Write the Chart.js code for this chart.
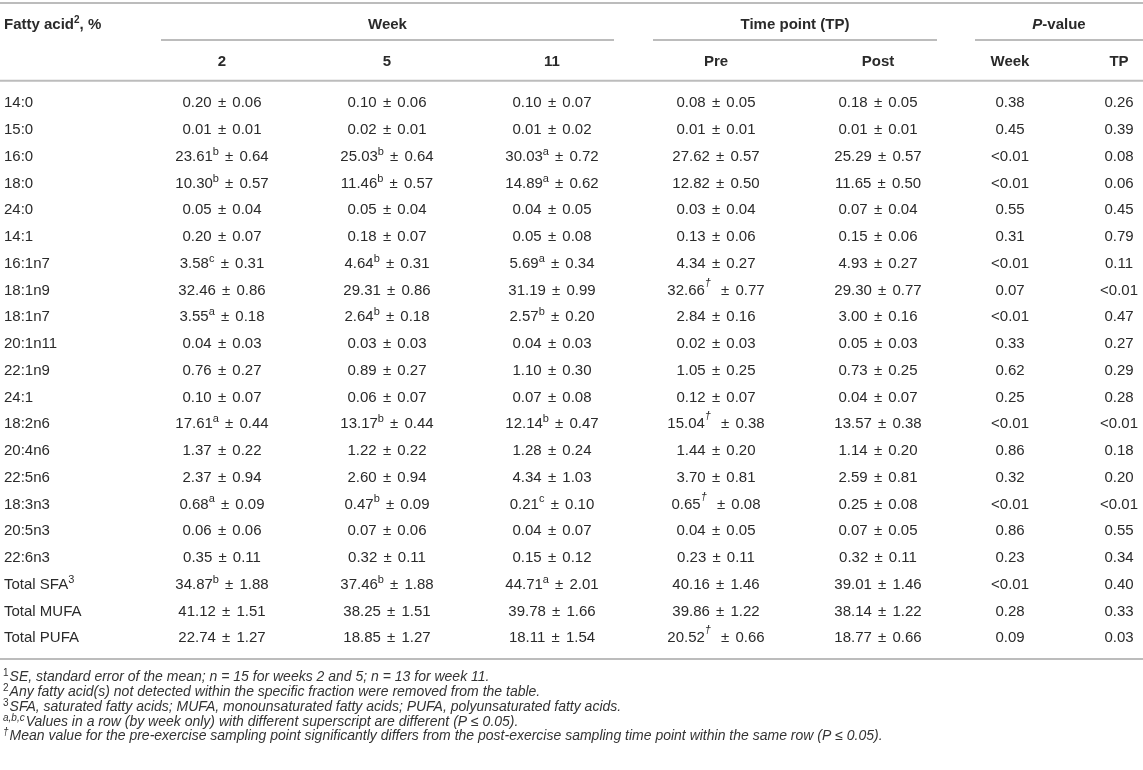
<!DOCTYPE html>
<html lang="en">
<head>
    <meta charset="UTF-8">
    <title>Fatty acid profile by week and time point</title>
    <style>
        html, body { margin: 0; padding: 0; background: #fff; }
        #wrap { width: 1143px; height: 770px; position: relative; }
    </style>
    <script src="https://cdn.jsdelivr.net/npm/chart.js"></script>
</head>
<body>
<div id="wrap"><canvas id="tableChart"></canvas></div>
<script>
    // Row labels
    var acids = ['14:0', '15:0', '16:0', '18:0', '24:0', '14:1', '16:1n7', '18:1n9', '18:1n7', '20:1n11',
        '22:1n9', '24:1', '18:2n6', '20:4n6', '22:5n6', '18:3n3', '20:5n3', '22:6n3',
        'Total SFA', 'Total MUFA', 'Total PUFA'];
    var acidSup = ['', '', '', '', '', '', '', '', '', '', '', '', '', '', '', '', '', '', '3', '', ''];

    // Week 2
    var wk2Mean = [0.20, 0.01, 23.61, 10.30, 0.05, 0.20, 3.58, 32.46, 3.55, 0.04, 0.76, 0.10, 17.61, 1.37, 2.37, 0.68, 0.06, 0.35, 34.87, 41.12, 22.74];
    var wk2SE   = [0.06, 0.01, 0.64, 0.57, 0.04, 0.07, 0.31, 0.86, 0.18, 0.03, 0.27, 0.07, 0.44, 0.22, 0.94, 0.09, 0.06, 0.11, 1.88, 1.51, 1.27];
    var wk2Sup  = ['', '', 'b', 'b', '', '', 'c', '', 'a', '', '', '', 'a', '', '', 'a', '', '', 'b', '', ''];

    // Week 5
    var wk5Mean = [0.10, 0.02, 25.03, 11.46, 0.05, 0.18, 4.64, 29.31, 2.64, 0.03, 0.89, 0.06, 13.17, 1.22, 2.60, 0.47, 0.07, 0.32, 37.46, 38.25, 18.85];
    var wk5SE   = [0.06, 0.01, 0.64, 0.57, 0.04, 0.07, 0.31, 0.86, 0.18, 0.03, 0.27, 0.07, 0.44, 0.22, 0.94, 0.09, 0.06, 0.11, 1.88, 1.51, 1.27];
    var wk5Sup  = ['', '', 'b', 'b', '', '', 'b', '', 'b', '', '', '', 'b', '', '', 'b', '', '', 'b', '', ''];

    // Week 11
    var wk11Mean = [0.10, 0.01, 30.03, 14.89, 0.04, 0.05, 5.69, 31.19, 2.57, 0.04, 1.10, 0.07, 12.14, 1.28, 4.34, 0.21, 0.04, 0.15, 44.71, 39.78, 18.11];
    var wk11SE   = [0.07, 0.02, 0.72, 0.62, 0.05, 0.08, 0.34, 0.99, 0.20, 0.03, 0.30, 0.08, 0.47, 0.24, 1.03, 0.10, 0.07, 0.12, 2.01, 1.66, 1.54];
    var wk11Sup  = ['', '', 'a', 'a', '', '', 'a', '', 'b', '', '', '', 'b', '', '', 'c', '', '', 'a', '', ''];

    // Time point: pre / post
    var preMean = [0.08, 0.01, 27.62, 12.82, 0.03, 0.13, 4.34, 32.66, 2.84, 0.02, 1.05, 0.12, 15.04, 1.44, 3.70, 0.65, 0.04, 0.23, 40.16, 39.86, 20.52];
    var preSE   = [0.05, 0.01, 0.57, 0.50, 0.04, 0.06, 0.27, 0.77, 0.16, 0.03, 0.25, 0.07, 0.38, 0.20, 0.81, 0.08, 0.05, 0.11, 1.46, 1.22, 0.66];
    var preSup  = ['', '', '', '', '', '', '', '†', '', '', '', '', '†', '', '', '†', '', '', '', '', '†'];
    var postMean = [0.18, 0.01, 25.29, 11.65, 0.07, 0.15, 4.93, 29.30, 3.00, 0.05, 0.73, 0.04, 13.57, 1.14, 2.59, 0.25, 0.07, 0.32, 39.01, 38.14, 18.77];
    var postSE   = [0.05, 0.01, 0.57, 0.50, 0.04, 0.06, 0.27, 0.77, 0.16, 0.03, 0.25, 0.07, 0.38, 0.20, 0.81, 0.08, 0.05, 0.11, 1.46, 1.22, 0.66];

    // P-values
    var pWeek = ['0.38', '0.45', '<0.01', '<0.01', '0.55', '0.31', '<0.01', '0.07', '<0.01', '0.33', '0.62', '0.25', '<0.01', '0.86', '0.32', '<0.01', '0.86', '0.23', '<0.01', '0.28', '0.09'];
    var pTP   = ['0.26', '0.39', '0.08', '0.06', '0.45', '0.79', '0.11', '<0.01', '0.47', '0.27', '0.29', '0.28', '<0.01', '0.18', '0.20', '<0.01', '0.55', '0.34', '0.40', '0.33', '0.03'];

    // Column headings
    var groupHeads = ['Week', 'Time point (TP)', 'P-value'];
    var colHeads = ['2', '5', '11', 'Pre', 'Post', 'Week', 'TP'];

    var footnotes = [
        ['1', 'SE, standard error of the mean; n = 15 for weeks 2 and 5; n = 13 for week 11.'],
        ['2', 'Any fatty acid(s) not detected within the specific fraction were removed from the table.'],
        ['3', 'SFA, saturated fatty acids; MUFA, monounsaturated fatty acids; PUFA, polyunsaturated fatty acids.'],
        ['a,b,c', 'Values in a row (by week only) with different superscript are different (P \u2264 0.05).'],
        ['\u2020', 'Mean value for the pre-exercise sampling point significantly differs from the post-exercise sampling time point within the same row (P \u2264 0.05).']
    ];

    // ---- layout (x in px units, y in row units) ----
    var colX = [222, 387, 552, 716, 878, 1010, 1119];
    var labelX = 4;
    var groupX = [387.5, 795, 1059];
    var headRowY = [-2.93, -1.556];
    var footY = [21.45, 22.01, 22.57, 23.13, 23.67];
    var rules = [
        { x0: 0, x1: 1143, y: -3.75 },
        { x0: 161, x1: 614, y: -2.367 },
        { x0: 653, x1: 937, y: -2.367 },
        { x0: 975, x1: 1143, y: -2.367 },
        { x0: 0, x1: 1143, y: -0.845 },
        { x0: 0, x1: 1143, y: 20.78 }
    ];

    var FAM = "'Liberation Sans', Arial, sans-serif";
    var TXT = '#2a2a2a';
    var F = '15px ' + FAM;
    var FB = 'bold 15px ' + FAM;
    var FSUP = '11px ' + FAM;
    var FDAG = 'italic 11px ' + FAM;
    var FFOOT = 'italic 14px ' + FAM;

    function cellParts(mean, sup, se) {
        var parts = [{ text: mean.toFixed(2), font: F }];
        if (sup === '\u2020') {
            parts.push({ text: sup, font: FDAG, dy: -8, gap: 4 });
        } else if (sup) {
            parts.push({ text: sup, font: FSUP, dy: -5 });
        }
        parts.push({ text: ' \u00b1 ', font: F, pre: 2, gap: 2 });
        parts.push({ text: se.toFixed(2), font: F });
        return parts;
    }

    function drawRich(ctx, parts, x, y, align) {
        var total = 0;
        parts.forEach(function (p) {
            ctx.font = p.font;
            p.w = ctx.measureText(p.text).width;
            total += (p.pre || 0) + p.w + (p.gap || 0);
        });
        var cx = align === 'left' ? x : x - total / 2;
        parts.forEach(function (p) {
            ctx.font = p.font;
            cx += p.pre || 0;
            ctx.fillText(p.text, cx, y + (p.dy || 0));
            cx += p.w + (p.gap || 0);
        });
    }

    // column datasets: invisible anchor points for every cell
    var columns = [
        function (i) { return cellParts(wk2Mean[i], wk2Sup[i], wk2SE[i]); },
        function (i) { return cellParts(wk5Mean[i], wk5Sup[i], wk5SE[i]); },
        function (i) { return cellParts(wk11Mean[i], wk11Sup[i], wk11SE[i]); },
        function (i) { return cellParts(preMean[i], preSup[i], preSE[i]); },
        function (i) { return cellParts(postMean[i], '', postSE[i]); },
        function (i) { return [{ text: pWeek[i], font: F }]; },
        function (i) { return [{ text: pTP[i], font: F }]; }
    ];

    var datasets = [];
    rules.forEach(function (r) {
        datasets.push({
            type: 'scatter', showLine: true, data: [{ x: r.x0, y: r.y }, { x: r.x1, y: r.y }],
            borderColor: '#bcbcbc', borderWidth: 2, pointRadius: 0, cellCol: -1
        });
    });
    // label column
    datasets.push({
        type: 'scatter', data: acids.map(function (a, i) { return { x: labelX, y: i }; }),
        pointRadius: 0, cellCol: 'label'
    });
    colX.forEach(function (cx, k) {
        datasets.push({
            type: 'scatter', data: acids.map(function (a, i) { return { x: cx, y: i }; }),
            pointRadius: 0, cellCol: k
        });
    });

    var tablePlugin = {
        id: 'tableText',
        afterDatasetsDraw: function (chart) {
            var ctx = chart.ctx;
            var xs = chart.scales.x, ys = chart.scales.y;
            ctx.save();
            ctx.fillStyle = TXT;
            ctx.textBaseline = 'middle';

            // body cells
            chart.data.datasets.forEach(function (ds, di) {
                if (ds.cellCol === -1) return;
                var meta = chart.getDatasetMeta(di);
                meta.data.forEach(function (pt, i) {
                    if (ds.cellCol === 'label') {
                        var parts = [{ text: acids[i], font: F }];
                        if (acidSup[i]) parts.push({ text: acidSup[i], font: FSUP, dy: -5 });
                        drawRich(ctx, parts, pt.x, pt.y, 'left');
                    } else {
                        drawRich(ctx, columns[ds.cellCol](i), pt.x, pt.y, 'center');
                    }
                });
            });

            // header row 1
            var y1 = ys.getPixelForValue(headRowY[0]);
            drawRich(ctx, [
                { text: 'Fatty acid', font: FB },
                { text: '2', font: 'bold 10px ' + FAM, dy: -5 },
                { text: ', %', font: FB }
            ], xs.getPixelForValue(labelX), y1, 'left');
            drawRich(ctx, [{ text: groupHeads[0], font: FB }], xs.getPixelForValue(groupX[0]), y1, 'center');
            drawRich(ctx, [{ text: groupHeads[1], font: FB }], xs.getPixelForValue(groupX[1]), y1, 'center');
            drawRich(ctx, [
                { text: 'P', font: 'italic bold 15px ' + FAM },
                { text: groupHeads[2].slice(1), font: FB }
            ], xs.getPixelForValue(groupX[2]), y1, 'center');

            // header row 2
            var y2 = ys.getPixelForValue(headRowY[1]);
            colHeads.forEach(function (h, k) {
                drawRich(ctx, [{ text: h, font: FB }], xs.getPixelForValue(colX[k]), y2, 'center');
            });

            // footnotes
            ctx.fillStyle = '#333';
            footnotes.forEach(function (fn, k) {
                var supFont = fn[0] === '1' || fn[0] === '2' || fn[0] === '3' ? '10px ' + FAM : 'italic 10px ' + FAM;
                drawRich(ctx, [
                    { text: fn[0], font: supFont, dy: -4, gap: 1 },
                    { text: fn[1], font: FFOOT }
                ], xs.getPixelForValue(labelX) - 1, ys.getPixelForValue(footY[k]), 'left');
            });
            ctx.restore();
        }
    };

    new Chart(document.getElementById('tableChart'), {
        type: 'scatter',
        data: { datasets: datasets },
        options: {
            responsive: true,
            maintainAspectRatio: false,
            animation: false,
            events: [],
            layout: { padding: 0 },
            plugins: { legend: { display: false }, tooltip: { enabled: false } },
            scales: {
                x: { type: 'linear', min: 0, max: 1143, display: false },
                y: { type: 'linear', min: -3.863, max: 24.93, reverse: true, display: false }
            }
        },
        plugins: [tablePlugin]
    });
</script>
</body>
</html>
